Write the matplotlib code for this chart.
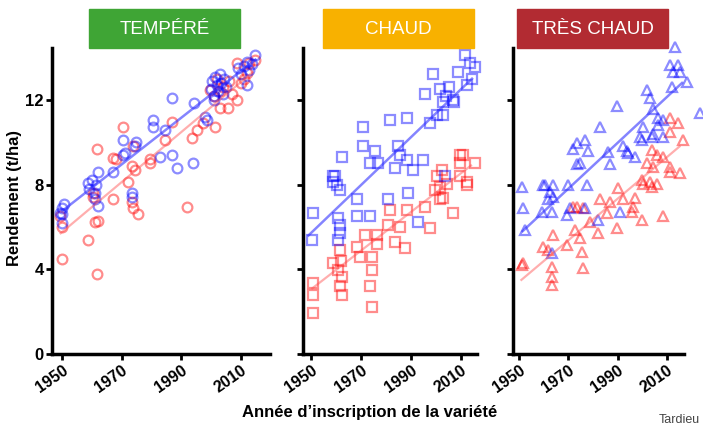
import matplotlib
matplotlib.use("Agg")
import matplotlib.pyplot as plt
from matplotlib.patches import Rectangle

plt.rcParams["font.family"] = ["Liberation Sans", "DejaVu Sans"]

# ---- data (year, yield t/ha) ----
temp_blue_year = [1950, 1950, 1949.3, 1950, 1950.5, 1958.7, 1959, 1960, 1961, 1961.5, 1962, 1962, 1961,
                  1967, 1970.5, 1970.5, 1971, 1975, 1974.5, 1973.5, 1973.5, 1980.6, 1980.6, 1984.6, 1983,
                  1987, 1988.6, 1994, 1987, 1994.5, 1998, 1998.7, 2000, 2000.5, 2001, 2001.5, 2002, 2002.5,
                  2003, 2003.5, 2004, 2004.5, 2005, 2001, 2009, 2010, 2011, 2012, 2013, 2014, 2015, 2012]
temp_blue_yield = [6.9, 6.6, 6.65, 6.2, 7.1, 8.07, 7.8, 8.2, 7.6, 8.0, 7.0, 8.6, 7.3,
                   8.6, 10.1, 9.4, 9.5, 10.0, 9.8, 7.6, 7.4, 11.05, 10.7, 10.6, 9.3,
                   9.4, 8.8, 9.0, 12.1, 11.85, 11.2, 11.05, 12.5, 12.9, 12.2, 13.1, 12.7, 12.4,
                   13.2, 12.8, 12.3, 13.0, 12.6, 12.0, 13.5, 13.2, 13.6, 13.8, 13.4, 13.7, 14.1, 12.7]
temp_red_year = [1950, 1949.3, 1950, 1958.7, 1961.8, 1961, 1962, 1960.5, 1961.7, 1960.4, 1967, 1967, 1968,
                 1970.5, 1972, 1973.5, 1973.5, 1974, 1975.5, 1974, 1974.5, 1979.6, 1979.6, 1984.6, 1987,
                 1992, 1993.7, 1995.4, 1997.4, 2001.4, 2003, 2005.8, 2008.8, 1999.7, 2004, 2001, 2002,
                 2003, 2006, 2007, 2008.8, 2012, 2013, 2015, 2010, 2011]
temp_red_yield = [4.5, 6.5, 6.0, 5.4, 3.8, 6.25, 6.3, 7.4, 9.7, 7.6, 7.3, 9.25, 9.2,
                  10.7, 8.1, 8.9, 7.2, 6.9, 6.6, 9.8, 8.7, 9.2, 9.0, 10.1, 10.95,
                  6.95, 10.2, 10.6, 10.9, 10.7, 11.6, 11.6, 12.0, 12.45, 12.6, 12.2, 13.0,
                  12.4, 12.9, 12.3, 13.75, 13.25, 13.75, 13.9, 12.8, 13.0]

chaud_blue_year = [1950.8, 1950.4, 1958.8, 1958.8, 1959.6, 1960.4, 1961.6, 1960.8, 1961.6, 1961.6, 1960.8,
                   1962.4, 1968.4, 1968.4, 1970.8, 1970.8, 1973.6, 1973.6, 1975.6, 1976.8, 1980.8, 1981.6,
                   1983.6, 1984.8, 1985.6, 1988.4, 1988.4, 1988.8, 1990.8, 1992.8, 1994.8, 1995.6, 1997.6,
                   1998.8, 2000.4, 2001.6, 2002.8, 2002.8, 2003.6, 2004, 2005, 2006.8, 2007, 2008.8, 2011.6,
                   2012.4, 2013.6, 2014.4, 2015.6]
chaud_blue_yield = [6.65, 5.4, 8.4, 8.1, 8.4, 8.0, 7.75, 6.4, 6.1, 5.7, 5.4,
                    9.3, 7.3, 6.5, 10.7, 9.8, 9.0, 6.5, 9.6, 9.0, 7.3, 11.05,
                    8.8, 9.8, 9.4, 11.15, 9.15, 7.6, 8.7, 6.25, 9.15, 12.3, 10.9,
                    13.2, 11.3, 12.5, 11.9, 11.3, 8.4, 12.2, 12.6, 12.0, 11.9, 13.3, 14.1,
                    12.7, 13.75, 13.0, 13.55]
chaud_red_year = [1950.8, 1950.8, 1950.8, 1958.8, 1960.8, 1961.6, 1961.6, 1962.4, 1962.4, 1962, 1968.4,
                  1969.6, 1971.6, 1974.4, 1974.4, 1973.6, 1974.4, 1976.4, 1976.4, 1980.8, 1981.6, 1983.6,
                  1985.6, 1987.6, 1988.4, 1995.6, 1997.6, 1999.6, 2000.4, 2001.6, 2001.6, 2002.4, 2002.8,
                  2004.4, 2006.8, 2009.6, 2009.6, 2009.6, 2010.8, 2012.4, 2012.4, 2015.6]
chaud_red_yield = [1.95, 2.8, 3.35, 4.3, 3.95, 3.2, 4.9, 3.65, 2.8, 4.4, 5.05,
                   4.6, 5.6, 4.6, 3.95, 3.2, 2.2, 5.6, 5.2, 6.1, 6.8, 5.3,
                   6.0, 5.0, 6.8, 6.95, 5.95, 7.75, 8.4, 7.9, 7.3, 8.7, 7.35,
                   8.05, 6.65, 8.4, 9.4, 9.0, 9.4, 8.1, 8.0, 9.0]

tres_blue_year = [1951.2, 1951.6, 1952.4, 1959.7, 1960.5, 1961.7, 1962.6, 1963.8, 1963.4, 1959.3, 1963.4,
                  1963.8, 1969.8, 1970.6, 1969.4, 1971.9, 1973.5, 1973.5, 1974.7, 1976.7, 1977.9, 1977.5,
                  1976.7, 1982, 1982.8, 1986, 1986.8, 1989.7, 1990.9, 1992.1, 1993.7, 1994.1, 1997, 1999,
                  1999.8, 2000.2, 2001.8, 2003, 2003.9, 2004.3, 2004.3, 2006.3, 2006.3, 2008.3, 2008.3,
                  2011.1, 2011.9, 2012.3, 2013.2, 2014.4, 2015.2, 2018, 2023.3]
tres_blue_yield = [7.9, 6.9, 5.85, 8.0, 8.0, 7.3, 7.65, 8.0, 6.7, 6.7, 4.75,
                   7.4, 8.0, 6.9, 6.55, 9.7, 9.95, 8.95, 9.0, 10.1, 9.6, 8.0,
                   6.9, 6.35, 10.7, 9.55, 8.95, 11.7, 6.7, 9.8, 9.6, 9.5, 9.3, 10.25,
                   10.1, 10.7, 12.45, 12.1, 10.25, 11.55, 10.4, 11.15, 10.8, 11.05, 10.25,
                   13.65, 12.6, 13.3, 14.5, 13.65, 13.3, 12.85, 11.4]
tres_red_year = [1951.2, 1951.6, 1959.7, 1961.7, 1963.4, 1963.4, 1963.4, 1963.8, 1969.4, 1972.7, 1971.9,
                 1973.5, 1974.7, 1975.5, 1975.9, 1975.9, 1978.7, 1982, 1982.8, 1985.6, 1986.8, 1989.7,
                 1990.1, 1992.1, 1995.7, 1996.2, 1997, 1999.8, 1999.8, 2000.2, 2001.8, 2003, 2003.9,
                 2003.9, 2004.3, 2005.9, 2005.9, 2008.3, 2008.3, 2011.1, 2011.1, 2011.1, 2011.1, 2014.4,
                 2015.2, 2016.4]
tres_red_yield = [4.2, 4.3, 5.05, 4.9, 4.1, 3.65, 3.25, 5.6, 5.15, 5.85, 6.95,
                  6.95, 5.5, 4.8, 4.05, 6.9, 6.25, 5.7, 7.3, 6.65, 7.2, 5.95,
                  7.85, 7.3, 6.7, 6.95, 7.35, 6.35, 8.2, 8.05, 9.0, 8.1, 7.9,
                  9.65, 8.85, 8.05, 9.4, 9.3, 6.5, 11.15, 10.5, 8.85, 8.6, 10.9,
                  8.55, 10.1]

# trend line end points (year, yield)
temp_blue_trend = ([1950, 2015], [6.75, 13.9])
temp_red_trend = ([1949.5, 2014], [5.7, 13.3])
chaud_blue_trend = ([1949, 2014.4], [5.6, 13.0])
chaud_red_trend = ([1950.5, 2014], [3.1, 8.9])
tres_blue_trend = ([1951.5, 2016], [5.8, 12.8])
tres_red_trend = ([1951, 2015], [3.5, 9.8])

titles = ["TEMPÉRÉ", "CHAUD", "TRÈS CHAUD"]
title_colors = ["#3fa535", "#f8b100", "#b22b32"]
markers = ["o", "s", "^"]
year_ticks = [1950, 1970, 1990, 2010]
yield_ticks = [0, 4, 8, 12]

panels = [
    (temp_blue_year, temp_blue_yield, temp_red_year, temp_red_yield, temp_blue_trend, temp_red_trend),
    (chaud_blue_year, chaud_blue_yield, chaud_red_year, chaud_red_yield, chaud_blue_trend, chaud_red_trend),
    (tres_blue_year, tres_blue_yield, tres_red_year, tres_red_yield, tres_blue_trend, tres_red_trend),
]

W, H = 703, 426
fig = plt.figure(figsize=(W / 100, H / 100), dpi=100)

# axes boxes in pixels: (left, right), and x limits
ax_px = [(52, 270), (303, 477), (513, 684)]
xlims = [(1946.6, 2019.9), (1946.8, 2016.4), (1947.6, 2016.8)]
box_px = [(89, 240), (323, 474), (517, 668)]
top_px, bot_px = 48, 354

for i, (bx, by, rx, ry, btr, rtr) in enumerate(panels):
    l, r = ax_px[i]
    ax = fig.add_axes([l / W, 1 - bot_px / H, (r - l) / W, (bot_px - top_px) / H])
    m = markers[i]
    ms = 7 if m != "^" else 7.5
    ax.plot(rx, ry, m, ls="none", mfc="none", mec=(1, 0, 0, 0.45), mew=1.6, ms=ms, clip_on=False)
    ax.plot(bx, by, m, ls="none", mfc="none", mec=(0, 0, 1, 0.45), mew=1.6, ms=ms, clip_on=False)
    ax.plot(rtr[0], rtr[1], color=(1, 0.3, 0.3, 0.45), lw=1.6)
    ax.plot(btr[0], btr[1], color=(0.2, 0.2, 1, 0.6), lw=1.8)

    ax.set_xlim(*xlims[i])
    ax.set_ylim(0, 14.45)
    ax.set_xticks(year_ticks)
    ax.set_xticklabels([str(y) for y in year_ticks], rotation=35, ha="right",
                       rotation_mode="anchor", fontsize=11.5, fontweight="bold")
    ax.set_yticks(yield_ticks)
    if i == 0:
        ax.set_yticklabels([str(v) for v in yield_ticks], fontsize=12, fontweight="bold")
    else:
        ax.set_yticklabels([])
    for s in ["top", "right"]:
        ax.spines[s].set_visible(False)
    for s in ["left", "bottom"]:
        ax.spines[s].set_linewidth(2.5)
    ax.tick_params(width=2, length=4, pad=2)

    # coloured title box
    x0, x1 = box_px[i]
    fig.patches.append(Rectangle((x0 / W, 1 - 48 / H), (x1 - x0) / W, 39 / H,
                                 transform=fig.transFigure, color=title_colors[i], zorder=0))
    fig.text((x0 + x1) / 2 / W, 1 - 29 / H, titles[i], color="white", fontsize=13.5,
             ha="center", va="center")

fig.text(15 / W, 1 - 198 / H, "Rendement (t/ha)", fontsize=12, fontweight="bold",
         rotation=90, ha="center", va="center")
fig.text(370 / W, 1 - 413 / H, "Année d’inscription de la variété", fontsize=12,
         fontweight="bold", ha="center", va="center")
fig.text(700 / W, 1 - 420 / H, "Tardieu", fontsize=9, color="#444444", ha="right", va="center")

fig.savefig("out.png", dpi=100)
